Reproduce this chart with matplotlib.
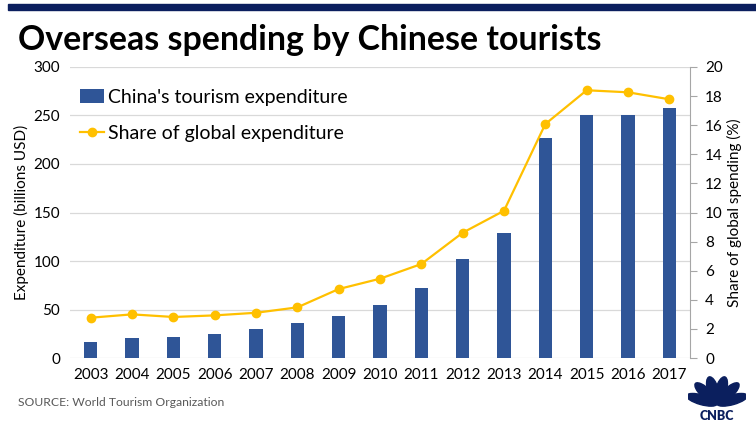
import numpy as np
import matplotlib.pyplot as plt
from matplotlib.patches import Ellipse, Rectangle

years = ['2003', '2004', '2005', '2006', '2007', '2008', '2009', '2010',
         '2011', '2012', '2013', '2014', '2015', '2016', '2017']
expenditure = [16.5, 21, 22, 24.5, 30, 36, 43.5, 55, 72.5, 102, 129, 227, 250, 250, 258]
share = [2.77, 3.0, 2.82, 2.93, 3.11, 3.48, 4.74, 5.45, 6.46, 8.61, 10.12, 16.08, 18.4, 18.26, 17.78]

plt.rcParams['font.family'] = ['Lato', 'DejaVu Sans']

bar_col = '#2F5597'
line_col = '#FFC000'
navy = '#0B1F5E'

fig = plt.figure(figsize=(7.56, 4.25), dpi=100)
ax = fig.add_axes([0.0926, 0.1576, 0.8201, 0.6848])
ax2 = ax.twinx()

x = np.arange(len(years))
ax.bar(x, expenditure, width=0.33, color=bar_col, zorder=2,
       label="China's tourism expenditure")
ax2.plot(x, share, color=line_col, marker='o', markersize=6, lw=1.6,
         label='Share of global expenditure', zorder=3)

ax.set_xlim(-0.5, len(years) - 0.5)
ax.set_ylim(0, 300)
ax.set_yticks(range(0, 301, 50))
ax.set_xticks(x)
ax.set_xticklabels(years)
ax2.set_ylim(0, 20)
ax2.set_yticks(range(0, 21, 2))

ax.grid(axis='y', color='#D9D9D9', lw=0.9, zorder=0)
ax.set_axisbelow(True)
for s in ['top', 'left', 'right', 'bottom']:
    ax.spines[s].set_visible(False)
for s in ['top', 'left', 'bottom']:
    ax2.spines[s].set_visible(False)
ax2.spines['right'].set_color('#A6A6A6')
ax.tick_params(axis='both', length=0, labelsize=11, pad=7)
ax2.tick_params(axis='y', length=5, color='#A6A6A6', labelsize=11, pad=6)

ax.set_ylabel('Expenditure (billions USD)', fontsize=11, labelpad=3)
ax2.set_ylabel('Share of global spending (%)', fontsize=11, labelpad=3)

h1, l1 = ax.get_legend_handles_labels()
h2, l2 = ax2.get_legend_handles_labels()
ax2.legend(h1 + h2, l1 + l2, loc='upper left', bbox_to_anchor=(-0.012, 0.985),
           frameon=False, fontsize=14, handlelength=1.25, handletextpad=0.2,
           labelspacing=1.0, borderaxespad=0.5)

# top rule and title
fig.patches.append(Rectangle((8 / 756, 1 - 10 / 425), 1, 6 / 425,
                             transform=fig.transFigure, color=navy))
fig.text(18 / 756, 1 - 40 / 425, 'Overseas spending by Chinese tourists',
         fontsize=24.4, fontweight='bold', va='center', ha='left')
fig.text(18 / 756, 1 - 402 / 425, 'SOURCE: World Tourism Organization',
         fontsize=8.7, color='#595959', va='center', ha='left')

# CNBC peacock mark
lg = fig.add_axes([688 / 756, 5 / 425, 58 / 756, 46 / 425])
lg.set_xlim(-1, 1)
lg.set_ylim(-0.6, 1.2)
lg.axis('off')
for ang in [162, 132, 104, 76, 48, 18]:
    a = np.deg2rad(ang)
    cx, cy = 0.55 * np.cos(a), 0.55 * np.sin(a) + 0.02
    lg.add_patch(Ellipse((cx, cy), 1.1, 0.38, angle=ang, color=navy))
lg.text(0, -0.45, 'CNBC', ha='center', va='center', fontsize=9,
        fontweight='heavy', color=navy)

fig.savefig('out.png', dpi=100)
